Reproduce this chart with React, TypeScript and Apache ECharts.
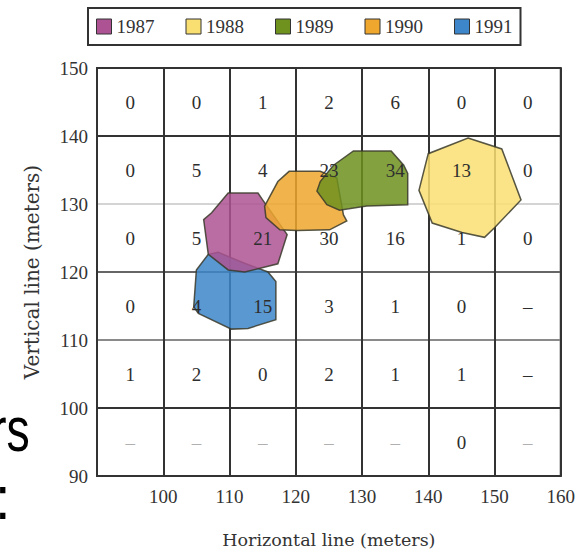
import React, { useEffect, useRef } from "react";
import * as echarts from "echarts";

// ---- data ----
const years = ["1987", "1988", "1989", "1990", "1991"];
const yearColors = ["#ad5393", "#f9df72", "#6f911e", "#efa72e", "#3d86ca"];

const xTicks = [90, 100, 110, 120, 130, 140, 150, 160];
const yTicks = [90, 100, 110, 120, 130, 140, 150];

// cell centres (bins of 10 m)
const colCenters = [95, 105, 115, 125, 135, 145, 155];
const rowCenters = [145, 135, 125, 115, 105, 95];

// counts per cell, rows from top (140-150) to bottom (90-100)
const row145 = ["0", "0", "1", "2", "6", "0", "0"];
const row135 = ["0", "5", "4", "23", "34", "13", "0"];
const row125 = ["0", "5", "21", "30", "16", "1", "0"];
const row115 = ["0", "4", "15", "3", "1", "0", "–"];
const row105 = ["1", "2", "0", "2", "1", "1", "–"];
const row95 = ["–", "–", "–", "–", "–", "0", "–"];
const countRows = [row145, row135, row125, row115, row105, row95];

// territory outlines (data coords: horizontal m, vertical m)
const poly1987 = [
  [109.8, 131.6], [114.3, 131.6], [115.0, 130.6], [118.7, 125.5], [117.3, 121.2],
  [112.3, 120.0], [109.8, 120.3], [106.8, 122.6], [106.1, 127.7], [107.3, 128.7],
];
const poly1988 = [
  [146.0, 139.7], [151.1, 138.1], [154.0, 130.6], [150.0, 126.5], [148.5, 125.1],
  [145.1, 125.8], [140.6, 127.2], [138.6, 132.0], [140.0, 137.4],
];
const poly1989 = [
  [125.7, 135.7], [128.7, 137.8], [134.4, 137.8], [136.3, 135.7], [136.9, 134.5],
  [136.9, 129.9], [130.7, 129.7], [126.6, 129.1], [124.7, 129.9], [123.2, 131.9],
  [123.7, 133.3],
];
const poly1990 = [
  [119.0, 134.8], [123.7, 134.8], [126.2, 133.8], [127.2, 128.4], [127.7, 127.5],
  [125.1, 126.2], [120.2, 126.1], [117.6, 126.2], [115.5, 128.0], [115.3, 129.7],
  [117.3, 133.3],
];
const poly1991 = [
  [108.3, 122.9], [106.8, 122.6], [105.0, 120.3], [104.6, 114.9], [105.3, 113.9],
  [110.3, 111.6], [112.8, 111.7], [117.0, 113.0], [117.0, 118.6], [115.8, 120.0],
  [112.0, 121.4],
];
const polys: Record<string, number[][]> = {
  "1987": poly1987, "1988": poly1988, "1989": poly1989, "1990": poly1990, "1991": poly1991,
};
const drawOrder = ["1991", "1987", "1990", "1989", "1988"];

const SERIF = "'Liberation Serif', 'DejaVu Serif', serif";
const WIDE_SERIF = "'DejaVu Serif', 'Liberation Serif', serif";
const SANS = "'Liberation Sans', Arial, sans-serif";

export default function App() {
  const ref = useRef<HTMLDivElement>(null);
  useEffect(() => {
    if (!ref.current) return;
    const chart = echarts.init(ref.current, undefined, { renderer: "svg" });

    const cellData: number[][] = [];
    const cellText: string[] = [];
    const cellGray: boolean[] = [];
    countRows.forEach((row, ri) => {
      row.forEach((v, ci) => {
        cellData.push([colCenters[ci], rowCenters[ri]]);
        cellText.push(v);
        cellGray.push(ri === countRows.length - 1 && v === "–");
      });
    });

    const polySeries = drawOrder.map((yr) => {
      const idx = years.indexOf(yr);
      const color = yearColors[idx];
      const pts = polys[yr];
      return {
        type: "custom",
        name: yr,
        data: pts,
        encode: { x: 0, y: 1 },
        z: 2,
        itemStyle: { color, borderColor: "#333", borderWidth: 1 },
        renderItem: (params: any, api: any) => {
          if (params.dataIndex !== 0) return null;
          return {
            type: "polygon",
            shape: { points: pts.map((p) => api.coord(p)) },
            style: { fill: color, stroke: "#3a3a2a", lineWidth: 1.5, opacity: 0.85 },
          };
        },
      };
    });

    const option: any = {
      animation: false,
      backgroundColor: "#ffffff",
      grid: {
        left: 97, right: 11, top: 68, bottom: 72,
        show: true, borderColor: "#333", borderWidth: 2, backgroundColor: "transparent",
      },
      legend: {
        data: years,
        left: 88, top: 8,
        padding: [9, 8],
        itemGap: 31,
        itemWidth: 15, itemHeight: 15,
        icon: "rect",
        borderColor: "#333", borderWidth: 2,
        itemStyle: { borderColor: "#333", borderWidth: 1 },
        textStyle: { fontFamily: SERIF, fontSize: 19, color: "#333" },
        selectedMode: false,
      },
      xAxis: {
        type: "value",
        min: xTicks[0], max: xTicks[xTicks.length - 1], interval: 10,
        name: "Horizontal line (meters)",
        nameLocation: "middle", nameGap: 55,
        nameTextStyle: { fontFamily: WIDE_SERIF, fontSize: 17.5, color: "#333" },
        axisLine: { show: true, lineStyle: { color: "#333", width: 2 } },
        axisTick: { show: false },
        axisLabel: { showMinLabel: false, margin: 11, fontFamily: SERIF, fontSize: 19, color: "#333" },
        splitLine: { show: true, lineStyle: { color: "#333", width: 2 } },
      },
      yAxis: {
        type: "value",
        min: yTicks[0], max: yTicks[yTicks.length - 1], interval: 10,
        name: "Vertical line (meters)",
        nameLocation: "middle", nameGap: 55,
        nameTextStyle: { fontFamily: WIDE_SERIF, fontSize: 20, color: "#333" },
        axisLine: { show: true, lineStyle: { color: "#333", width: 2 } },
        axisTick: { show: false },
        axisLabel: { margin: 9, fontFamily: SERIF, fontSize: 19, color: "#333" },
        splitLine: {
          show: true,
          lineStyle: { color: ["#333", "#333", "#8a8a8a", "#666", "#d4d4d4", "#333", "#333"], width: 2 },
        },
      },
      graphic: [
        {
          type: "text", x: -9, y: 398, scaleX: 0.75, z: 10,
          style: { text: "rs", font: `62px ${SANS}`, fill: "#000", verticalAlign: "top" },
        },
        {
          type: "text", x: -5, y: 466, scaleX: 0.9, z: 10,
          style: { text: ":", font: `62px ${SANS}`, fill: "#000", verticalAlign: "top" },
        },
      ],
      series: [
        ...polySeries,
        {
          type: "custom",
          name: "counts",
          data: cellData,
          encode: { x: 0, y: 1 },
          z: 5,
          renderItem: (params: any, api: any) => {
            const c = api.coord([api.value(0), api.value(1)]);
            const i = params.dataIndex;
            return {
              type: "text",
              x: c[0], y: c[1],
              style: {
                text: cellText[i],
                fill: cellGray[i] ? "#b0b0b0" : "#2e2e2e",
                font: `19px ${SERIF}`,
                align: "center",
                verticalAlign: "middle",
              },
            };
          },
        },
      ],
    };
    chart.setOption(option);
    return () => chart.dispose();
  }, []);
  return (
    <div
      ref={ref}
      style={{ position: "fixed", left: 0, top: 0, width: 578, height: 554, background: "#fff" }}
    />
  );
}
